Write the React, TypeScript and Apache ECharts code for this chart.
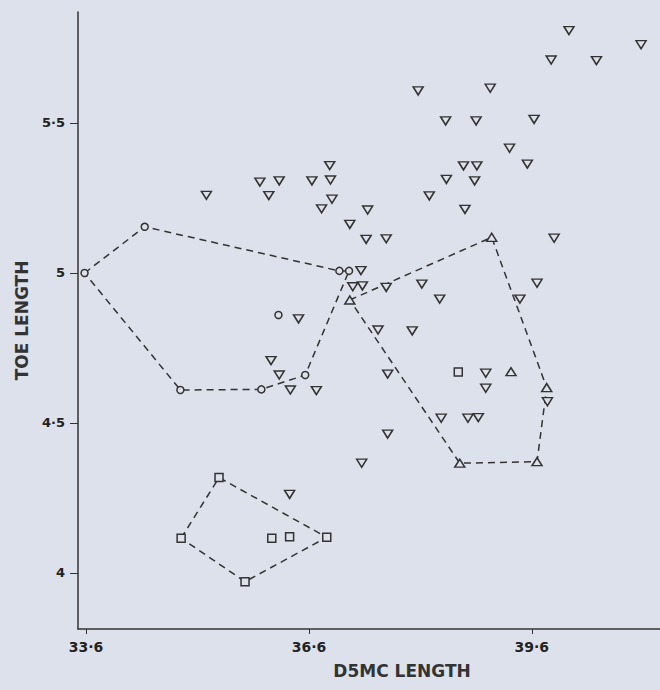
import React, { useEffect, useRef } from "react";
import * as echarts from "echarts";

// ---- Data ----
const xTickValues = [33.6, 36.6, 39.6];
const xTickLabels = ["33·6", "36·6", "39·6"];
const yTickValues = [4, 4.5, 5, 5.5];
const yTickLabels = ["4", "4·5", "5", "5·5"];

// inverted triangles
const invTriPoints: [number, number][] = [
  [36.88, 5.358], [36.89, 5.31], [36.64, 5.307], [36.2, 5.307], [35.94, 5.303],
  [36.06, 5.258], [35.22, 5.259], [36.91, 5.246], [36.77, 5.214], [37.39, 5.21],
  [37.15, 5.162], [38.07, 5.607], [39.04, 5.616], [38.44, 5.507], [38.85, 5.507],
  [38.68, 5.357], [38.86, 5.357], [38.45, 5.312], [38.83, 5.307], [38.22, 5.257],
  [38.7, 5.212], [40.1, 5.808], [41.07, 5.761], [39.86, 5.71], [40.47, 5.708],
  [39.63, 5.512], [39.3, 5.416], [39.54, 5.363], [37.37, 5.112], [37.64, 5.114],
  [39.9, 5.116], [37.3, 5.008], [37.19, 4.954], [37.32, 4.957], [37.64, 4.952],
  [38.12, 4.963], [38.36, 4.913], [39.67, 4.966], [39.44, 4.913], [37.53, 4.81],
  [37.99, 4.807], [36.46, 4.847], [36.09, 4.708], [36.2, 4.66], [36.35, 4.61],
  [36.7, 4.608], [37.66, 4.663], [38.98, 4.666], [38.98, 4.616], [39.81, 4.571],
  [38.38, 4.516], [38.74, 4.516], [38.88, 4.518], [37.66, 4.463], [37.31, 4.366],
  [36.34, 4.262],
];

// circles
const circlePoints: [number, number][] = [
  [33.58, 5.0], [34.39, 5.154], [37.01, 5.007], [37.14, 5.007],
  [36.55, 4.66], [35.96, 4.612], [34.87, 4.61], [36.19, 4.86],
];
const circleHull = [0, 1, 2, 3, 4, 5, 6, 0];

// upward triangles
const triPoints: [number, number][] = [
  [37.15, 4.91], [39.06, 5.119], [39.8, 4.618], [39.67, 4.371], [38.63, 4.366], [39.32, 4.671],
];
const triHull = [0, 1, 2, 3, 4, 0];

// squares
const squarePoints: [number, number][] = [
  [34.88, 4.116], [35.39, 4.318], [36.84, 4.119], [35.74, 3.971],
  [36.1, 4.116], [36.34, 4.121], [38.61, 4.67],
];
const squareHull = [0, 1, 2, 3, 0];

// ---- Styling ----
const BG = "#dce1eb";
const INK = "#333333";
const FONT = "'DejaVu Sans', 'Liberation Sans', sans-serif";

function labelFor(values: number[], labels: string[]) {
  return (v: number) => {
    const i = values.findIndex((t) => Math.abs(t - v) < 1e-6);
    return i >= 0 ? labels[i] : "";
  };
}

function hullSeries(name: string, pts: [number, number][], hull: number[]) {
  return {
    name,
    type: "line",
    data: hull.map((i) => pts[i]),
    symbol: "none",
    silent: true,
    z: 1,
    lineStyle: { color: INK, width: 1.5, type: [7, 5] },
  };
}

function markerSeries(name: string, pts: [number, number][], symbol: string, size: any, rotate = 0) {
  return {
    name,
    type: "scatter",
    data: pts,
    symbol,
    symbolSize: size,
    symbolRotate: rotate,
    z: 3,
    itemStyle: { color: BG, borderColor: INK, borderWidth: 1.5, opacity: 1 },
  };
}

export default function App() {
  const ref = useRef<HTMLDivElement>(null);
  useEffect(() => {
    if (!ref.current) return;
    const chart = echarts.init(ref.current, null, { renderer: "svg" });
    const option: any = {
      animation: false,
      backgroundColor: BG,
      grid: { left: 78, right: 0, top: 12, bottom: 61 },
      xAxis: {
        type: "value",
        min: 33.492,
        max: 41.325,
        name: "D5MC LENGTH",
        nameLocation: "middle",
        nameGap: 33,
        nameTextStyle: {
          fontFamily: FONT,
          fontSize: 17,
          fontWeight: "bold",
          color: INK,
          padding: [0, 0, 0, 66],
        },
        axisLine: { show: true, onZero: false, lineStyle: { color: INK, width: 1.5 } },
        axisTick: { show: true, length: 5, customValues: xTickValues, lineStyle: { color: INK } },
        axisLabel: {
          customValues: xTickValues,
          formatter: labelFor(xTickValues, xTickLabels),
          fontFamily: FONT,
          fontSize: 14,
          fontWeight: "bold",
          color: "#222",
          margin: 11,
        },
        splitLine: { show: false },
      },
      yAxis: {
        type: "value",
        min: 3.8133,
        max: 5.87,
        name: "TOE LENGTH",
        nameLocation: "middle",
        nameGap: 48,
        nameTextStyle: {
          fontFamily: FONT,
          fontSize: 17,
          fontWeight: "bold",
          color: INK,
        },
        axisLine: { show: true, onZero: false, lineStyle: { color: INK, width: 1.5 } },
        axisTick: { show: true, length: 8, customValues: yTickValues, lineStyle: { color: INK } },
        axisLabel: {
          customValues: yTickValues,
          formatter: labelFor(yTickValues, yTickLabels),
          fontFamily: FONT,
          fontSize: 13,
          fontWeight: "bold",
          color: "#222",
          margin: 13,
        },
        splitLine: { show: false },
      },
      series: [
        hullSeries("circle hull", circlePoints, circleHull),
        hullSeries("triangle hull", triPoints, triHull),
        hullSeries("square hull", squarePoints, squareHull),
        markerSeries("inverted triangles", invTriPoints, "triangle", [10, 8], 180),
        markerSeries("circles", circlePoints, "circle", 7),
        markerSeries("triangles", triPoints, "triangle", [10, 8]),
        markerSeries("squares", squarePoints, "rect", 8),
      ],
    };
    chart.setOption(option);
    return () => chart.dispose();
  }, []);
  return (
    <div
      ref={ref}
      style={{ position: "fixed", left: 0, top: 0, width: 660, height: 690, background: BG }}
    />
  );
}
